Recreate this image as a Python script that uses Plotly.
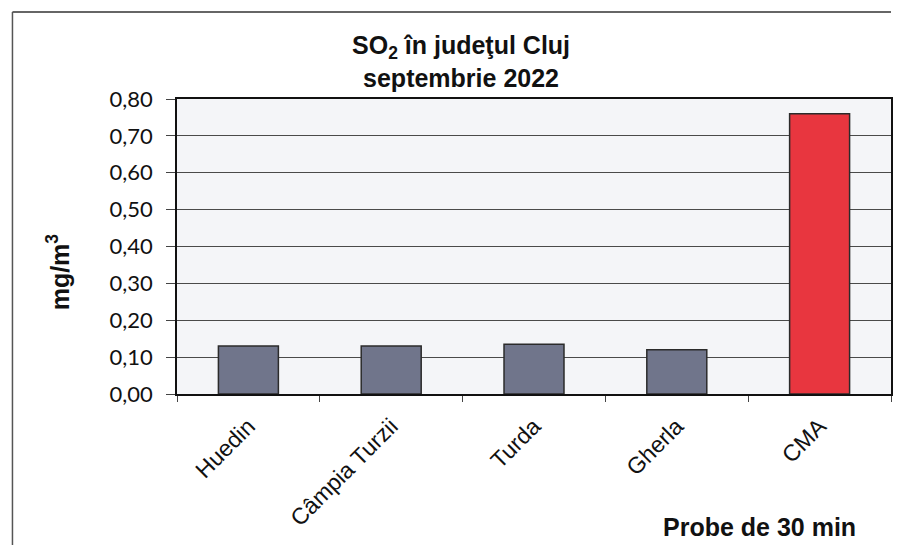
import plotly.graph_objects as go

categories = ["Huedin", "Câmpia Turzii", "Turda", "Gherla", "CMA"]
values = [0.13, 0.13, 0.135, 0.12, 0.76]
bar_colors = ["#70758b", "#70758b", "#70758b", "#70758b", "#e8363f"]
y_ticks = [0.0, 0.1, 0.2, 0.3, 0.4, 0.5, 0.6, 0.7, 0.8]

# page is drawn with an 8px body offset; figure coordinates below account for it
W, H = 886, 537
L, T, R, B = 169, 91, 1, 151
PW, PH = W - L - R, H - T - B


def px(xpage):
    return (xpage - 8 - L) / PW


def py(ypage):
    return (H - B - (ypage - 8)) / PH


fig = go.Figure()
fig.add_trace(go.Bar(
    x=categories, y=values,
    marker=dict(color=bar_colors, line=dict(color="#2b2b2b", width=1.5)),
    width=0.42,
))

fig.update_layout(
    width=W, height=H,
    margin=dict(l=L, r=R, t=T, b=B),
    paper_bgcolor="#ffffff",
    plot_bgcolor="#f4f5f8",
    separators=",.",
    showlegend=False,
    font=dict(family="Liberation Sans", color="#111"),
)

fig.update_yaxes(
    range=[0, 0.8], tickvals=y_ticks, tickformat=".2f",
    showgrid=True, gridcolor="#4a4a4a", gridwidth=1.2,
    showline=True, linecolor="#111", linewidth=1.5, mirror=True,
    ticks="outside", ticklen=9, tickcolor="#444", ticklabelstandoff=9,
    tickfont=dict(family="Lato", size=22, color="#111"),
    zeroline=False,
)
fig.update_xaxes(
    showline=True, linecolor="#111", linewidth=1.5, mirror=True,
    ticks="outside", ticklen=6, tickcolor="#444", tickson="boundaries",
    tickangle=-45, ticklabelstandoff=8,
    tickfont=dict(family="Liberation Sans", size=23, color="#111"),
)

fig.add_annotation(
    text="<b>SO<sub>2</sub> în judeţul Cluj<br>septembrie 2022</b>",
    xref="paper", yref="paper", x=px(462), y=py(61),
    xanchor="center", yanchor="middle", showarrow=False,
    font=dict(family="Liberation Sans", size=25, color="#111"),
)
fig.add_annotation(
    text="<b>mg/m<sup>3</sup></b>", xref="paper", yref="paper",
    x=px(58), y=py(272), textangle=-90,
    xanchor="center", yanchor="middle", showarrow=False,
    font=dict(family="Liberation Sans", size=25, color="#111"),
)
fig.add_annotation(
    text="<b>Probe de 30 min</b>", xref="paper", yref="paper",
    x=px(860), y=py(527),
    xanchor="right", yanchor="middle", showarrow=False,
    font=dict(family="Liberation Sans", size=25, color="#111"),
)

# outer chart frame (scanned document border): top and left edges
fig.add_shape(type="line", xref="paper", yref="paper",
              x0=px(12), x1=px(893), y0=py(12), y1=py(12),
              line=dict(color="#333", width=1.5))
fig.add_shape(type="line", xref="paper", yref="paper",
              x0=px(12), x1=px(12), y0=py(12), y1=py(545),
              line=dict(color="#555", width=1.5))

fig.write_html("out.html")
